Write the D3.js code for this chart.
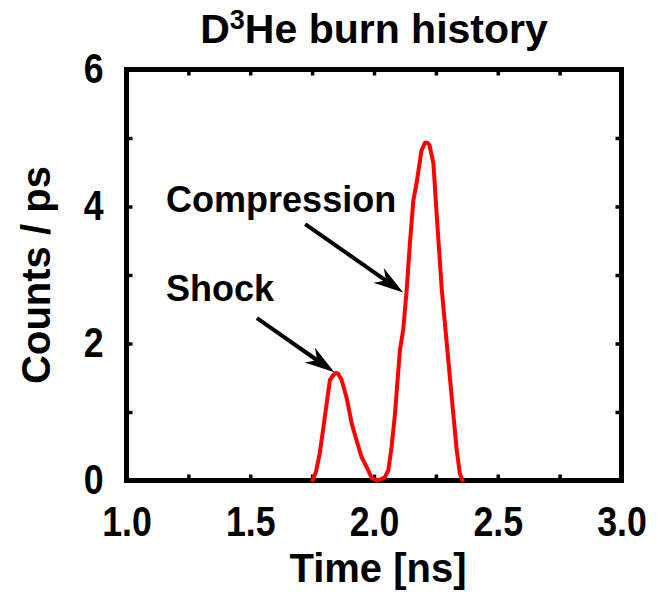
<!DOCTYPE html>
<html>
<head>
<meta charset="utf-8">
<script src="https://cdn.jsdelivr.net/npm/d3@7"></script>
<style>
  html, body { margin: 0; padding: 0; background: #fff; }
  svg { display: block; }
  text { font-family: "Liberation Sans", Arial, Helvetica, sans-serif; font-weight: bold; fill: #000; }
</style>
</head>
<body>
<svg id="chart" width="662" height="594"></svg>
<script>
// ---- data ----
const timeNs = [1.752, 1.765, 1.78, 1.795, 1.809, 1.822, 1.836, 1.845, 1.855, 1.869, 1.89, 1.91, 1.93, 1.95, 1.97, 1.99, 2.01, 2.03, 2.044, 2.058, 2.071, 2.085, 2.092, 2.105, 2.118, 2.132, 2.145, 2.159, 2.172, 2.192, 2.206, 2.215, 2.224, 2.24, 2.253, 2.274, 2.294, 2.314, 2.334, 2.347, 2.358];
const countsPerPs = [0, 0.12, 0.38, 0.76, 1.13, 1.47, 1.54, 1.57, 1.56, 1.47, 1.2, 0.83, 0.58, 0.34, 0.2, 0.04, 0, 0.02, 0.05, 0.15, 0.49, 0.98, 1.32, 1.91, 2.2, 2.78, 3.46, 4.09, 4.34, 4.82, 4.93, 4.93, 4.9, 4.63, 3.9, 2.78, 2.0, 1.22, 0.45, 0.1, 0];
const xTickLabels = [1.0, 1.5, 2.0, 2.5, 3.0];
const xMinorTicks = [1.0, 1.25, 1.5, 1.75, 2.0, 2.25, 2.5, 2.75, 3.0];
const yTickLabels = [0, 2, 4, 6];
const yMinorTicks = [0, 1, 2, 3, 4, 5, 6];
const annotationLabels = ["Shock", "Compression"];
const annotationTextPos = [[1.16, 2.62], [1.16, 3.92]];
const arrowFrom = [[1.527, 2.37], [1.722, 3.743]];
const arrowTo = [[1.84, 1.58], [2.118, 2.743]];
const titleMain = "D";
const titleSup = "3";
const titleRest = "He burn history";
const xTitle = "Time [ns]";
const yTitle = "Counts / ps";

// ---- layout ----
const margin = { left: 126.5, right: 662 - 621.5, top: 69.5, bottom: 594 - 480.5 };
const W = 662, H = 594;
const svg = d3.select("#chart");

const x = d3.scaleLinear().domain([1.0, 3.0]).range([margin.left, W - margin.right]);
const y = d3.scaleLinear().domain([0, 6]).range([H - margin.bottom, margin.top]);

const fmt1 = d3.format(".1f");

// ticks (inward) on all four sides
const tickLen = 6;
function tickAxis(axis, transform) {
  const g = svg.append("g").attr("transform", transform).call(axis);
  g.select(".domain").remove();
  g.selectAll("line").attr("stroke", "#000").attr("stroke-width", 3.5);
  g.selectAll("text").remove();
  return g;
}
tickAxis(d3.axisBottom(x).tickValues(xMinorTicks).tickSize(-tickLen), `translate(0,${y(0)})`);
tickAxis(d3.axisTop(x).tickValues(xMinorTicks).tickSize(-tickLen), `translate(0,${y(6)})`);
tickAxis(d3.axisLeft(y).tickValues(yMinorTicks).tickSize(-tickLen), `translate(${x(1)},0)`);
tickAxis(d3.axisRight(y).tickValues(yMinorTicks).tickSize(-tickLen), `translate(${x(3)},0)`);

// tick labels
const tickFont = 42, squeeze = 0.85;
const xLab = svg.append("g").attr("transform", `translate(0,${y(0)})`)
  .call(d3.axisBottom(x).tickValues(xTickLabels).tickFormat(fmt1).tickSize(0).tickPadding(26));
xLab.select(".domain").remove();
xLab.selectAll("text")
  .attr("font-size", tickFont).attr("fill", "#000")
  .attr("font-family", '"Liberation Sans", Arial, sans-serif').attr("font-weight", "bold")
  .attr("transform", `scale(${squeeze},1)`);

const yLab = svg.append("g").attr("transform", `translate(${x(1)},0)`)
  .call(d3.axisLeft(y).tickValues(yTickLabels).tickFormat(d3.format("d")).tickSize(0).tickPadding(23));
yLab.select(".domain").remove();
yLab.selectAll("text")
  .attr("font-size", tickFont).attr("fill", "#000")
  .attr("font-family", '"Liberation Sans", Arial, sans-serif').attr("font-weight", "bold")
  .attr("transform", `scale(${squeeze},1)`).attr("x", -23 / squeeze);

// frame
svg.append("rect")
  .attr("x", x(1)).attr("y", y(6))
  .attr("width", x(3) - x(1)).attr("height", y(0) - y(6))
  .attr("fill", "none").attr("stroke", "#000").attr("stroke-width", 5);

// data line
const pts = timeNs.map((t, i) => [t, countsPerPs[i]]);
svg.append("path")
  .datum(pts)
  .attr("d", d3.line().x(d => x(d[0])).y(d => y(d[1])).curve(d3.curveLinear))
  .attr("fill", "none").attr("stroke", "#ff0000").attr("stroke-width", 4)
  .attr("stroke-linejoin", "round").attr("stroke-linecap", "round");

// annotations
annotationLabels.forEach((lab, i) => {
  svg.append("text")
    .attr("x", x(annotationTextPos[i][0])).attr("y", y(annotationTextPos[i][1]))
    .attr("font-size", 36).text(lab);
  const x0 = x(arrowFrom[i][0]), y0 = y(arrowFrom[i][1]);
  const x1 = x(arrowTo[i][0]), y1 = y(arrowTo[i][1]);
  const dx = x1 - x0, dy = y1 - y0, len = Math.hypot(dx, dy);
  const ux = dx / len, uy = dy / len, px = -uy, py = ux;
  const headL = 30, headW = 9, notch = 9;
  const bx = x1 - ux * headL, by = y1 - uy * headL;
  const nx = x1 - ux * (headL - notch), ny = y1 - uy * (headL - notch);
  svg.append("line")
    .attr("x1", x0).attr("y1", y0).attr("x2", nx).attr("y2", ny)
    .attr("stroke", "#000").attr("stroke-width", 4);
  svg.append("path")
    .attr("d", `M${x1},${y1}L${bx + px * headW},${by + py * headW}L${nx},${ny}L${bx - px * headW},${by - py * headW}Z`)
    .attr("fill", "#000");
});

// title
const cx = (x(1) + x(3)) / 2;
const title = svg.append("text").attr("x", cx).attr("y", 43)
  .attr("text-anchor", "middle").attr("font-size", 41);
title.append("tspan").text(titleMain);
title.append("tspan").attr("font-size", 27).attr("dy", -14).text(titleSup);
title.append("tspan").attr("dy", 14).text(titleRest);

// axis titles
svg.append("text").attr("x", cx + 4).attr("y", 582)
  .attr("text-anchor", "middle").attr("font-size", 40).text(xTitle);
svg.append("text").attr("transform", `translate(50,${(y(0) + y(6)) / 2}) rotate(-90)`)
  .attr("text-anchor", "middle").attr("font-size", 40).text(yTitle);
</script>
</body>
</html>
